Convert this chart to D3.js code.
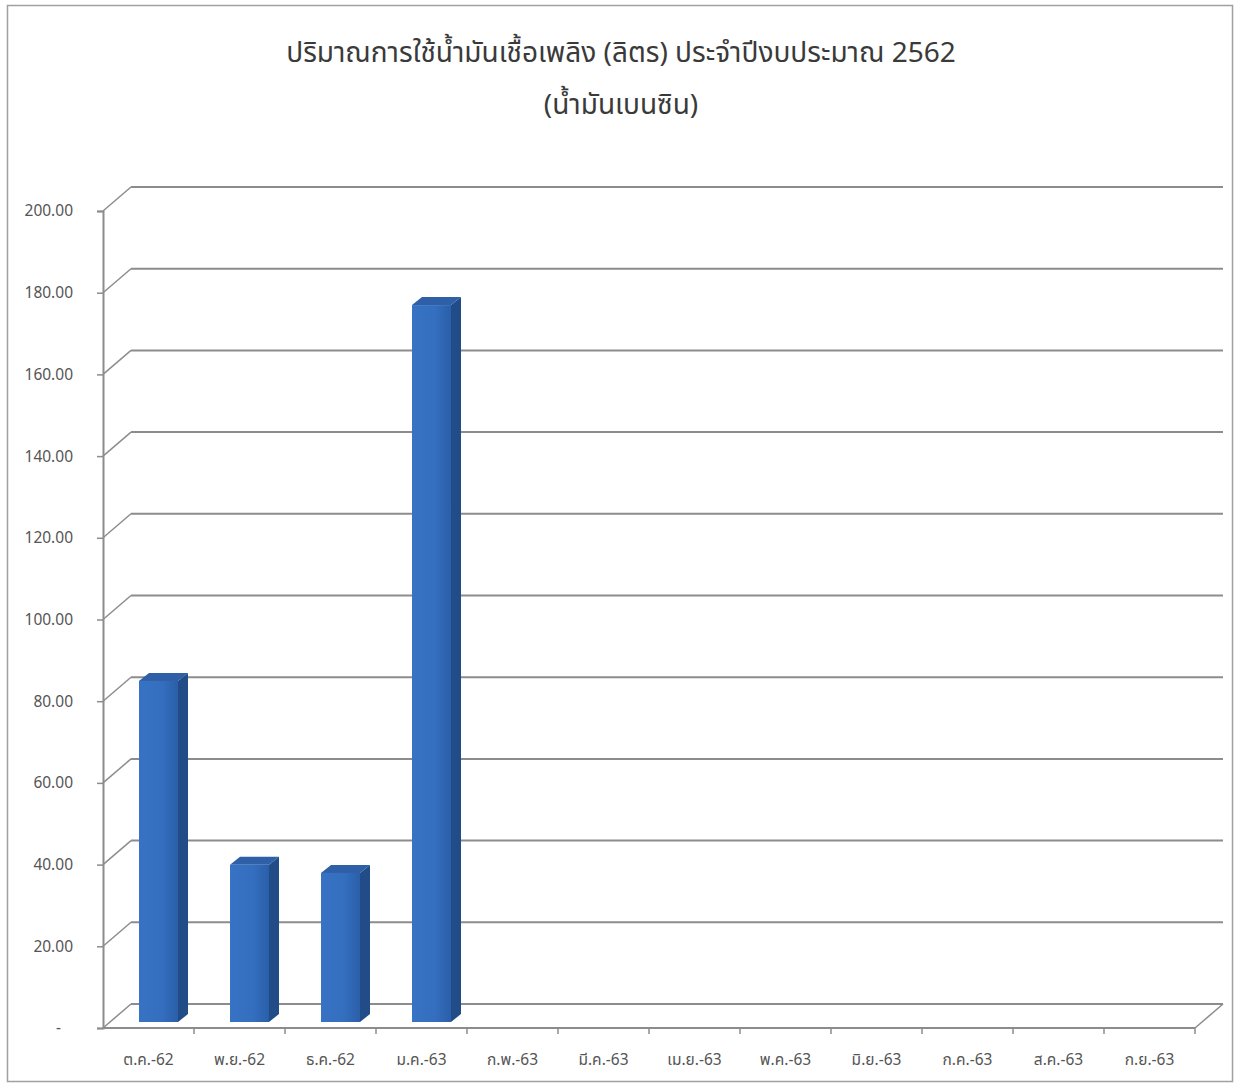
<!DOCTYPE html>
<html>
<head>
<meta charset="utf-8">
<script src="https://cdn.jsdelivr.net/npm/d3@7"></script>
<style>
  body { margin: 0; background: #fff; }
  svg text { font-family: "Noto Sans Thai", "Tahoma", "Noto Sans", "DejaVu Sans", sans-serif; }
</style>
</head>
<body>
<div id="chart"></div>
<script>
// chart data
const months = ["ต.ค.-62", "พ.ย.-62", "ธ.ค.-62", "ม.ค.-63", "ก.พ.-63", "มี.ค.-63",
                "เม.ย.-63", "พ.ค.-63", "มิ.ย.-63", "ก.ค.-63", "ส.ค.-63", "ก.ย.-63"];
const litres = [83.5, 38.5, 36.5, 175.5, null, null, null, null, null, null, null, null];
const yTicks = [0, 20, 40, 60, 80, 100, 120, 140, 160, 180, 200];
const titleLines = ["ปริมาณการใช้น้ำมันเชื้อเพลิง (ลิตร) ประจำปีงบประมาณ 2562", "(น้ำมันเบนซิน)"];

const width = 1236, height = 1083;
// 3D offsets: back wall and bar depth
const wallDx = 28, wallDy = -24;
const barShiftX = 7, barShiftY = -6;
const barDx = 10, barDy = -8;

const svg = d3.select("#chart")
    .append("svg")
    .attr("width", width)
    .attr("height", height);

// outer frame
svg.append("rect")
    .attr("x", 7.5).attr("y", 5.5)
    .attr("width", 1225).attr("height", 1076)
    .attr("fill", "#fff")
    .attr("stroke", "#a0a0a0")
    .attr("stroke-width", 1.5);

const x = d3.scaleBand().domain(months).range([103, 1195]);
const y = d3.scaleLinear().domain([0, 200]).range([1028, 211]);

// gradient for bar front
const defs = svg.append("defs");
const frontGrad = defs.append("linearGradient").attr("id", "frontGrad");
frontGrad.append("stop").attr("offset", "0%").attr("stop-color", "#3872c4");
frontGrad.append("stop").attr("offset", "60%").attr("stop-color", "#346ebe");
frontGrad.append("stop").attr("offset", "100%").attr("stop-color", "#2a5fa9");

const gridColor = "#8c8c8c";

// back wall gridlines + side diagonals
const grid = svg.append("g");
yTicks.forEach(t => {
    grid.append("line")
        .attr("x1", x.range()[0] + wallDx).attr("x2", x.range()[1] + wallDx)
        .attr("y1", y(t) + wallDy).attr("y2", y(t) + wallDy)
        .attr("stroke", gridColor).attr("stroke-width", 2);
    grid.append("line")
        .attr("x1", x.range()[0]).attr("y1", y(t))
        .attr("x2", x.range()[0] + wallDx).attr("y2", y(t) + wallDy)
        .attr("stroke", gridColor).attr("stroke-width", 1.5);
});

// floor: front edge and right diagonal
grid.append("line")
    .attr("x1", x.range()[0]).attr("x2", x.range()[1])
    .attr("y1", y(0)).attr("y2", y(0))
    .attr("stroke", gridColor).attr("stroke-width", 2);
grid.append("line")
    .attr("x1", x.range()[1]).attr("y1", y(0))
    .attr("x2", x.range()[1] + wallDx).attr("y2", y(0) + wallDy)
    .attr("stroke", gridColor).attr("stroke-width", 1.5);

// category tick marks on the front floor edge
svg.append("g").selectAll("line")
    .data(months)
    .enter()
    .append("line")
    .attr("x1", d => x(d) + x.bandwidth())
    .attr("x2", d => x(d) + x.bandwidth())
    .attr("y1", y(0)).attr("y2", y(0) + 6)
    .attr("stroke", gridColor).attr("stroke-width", 1.5);

// front value axis
const yAxis = d3.axisLeft(y)
    .tickValues(yTicks)
    .tickSize(6)
    .tickFormat(d => d === 0 ? "-" : d.toFixed(2));

const yg = svg.append("g")
    .attr("transform", `translate(${x.range()[0]},0)`)
    .call(yAxis);
yg.select(".domain").attr("stroke", gridColor).attr("stroke-width", 2);
yg.selectAll(".tick line").attr("stroke", gridColor).attr("stroke-width", 1.5);
yg.selectAll(".tick text")
    .attr("fill", "#555")
    .style("font-size", "15.5px")
    .attr("x", d => d === 0 ? -42 : -30);

// bars
const bars = svg.append("g").selectAll("g")
    .data(months.map((m, i) => ({ month: m, value: litres[i] })).filter(d => d.value !== null))
    .enter()
    .append("g");

const barW = 39;
function bx(d) { return x(d.month) + barShiftX + (x.bandwidth() - barW) / 2 + 3; }

// side face
bars.append("path")
    .attr("d", d => {
        const x0 = bx(d) + barW, yb = y(0) + barShiftY, yt = y(d.value) + barShiftY;
        return `M${x0},${yb} L${x0 + barDx},${yb + barDy} L${x0 + barDx},${yt + barDy} L${x0},${yt} Z`;
    })
    .attr("fill", "#214c88");

// top face
bars.append("path")
    .attr("d", d => {
        const x0 = bx(d), yt = y(d.value) + barShiftY;
        return `M${x0},${yt} L${x0 + barDx},${yt + barDy} L${x0 + barW + barDx},${yt + barDy} L${x0 + barW},${yt} Z`;
    })
    .attr("fill", "#2f5fa6");

// front face
bars.append("rect")
    .attr("x", d => bx(d))
    .attr("y", d => y(d.value) + barShiftY)
    .attr("width", barW)
    .attr("height", d => y(0) - y(d.value))
    .attr("fill", "url(#frontGrad)");

// category labels
svg.append("g").selectAll("text")
    .data(months)
    .enter()
    .append("text")
    .attr("x", d => x(d) + x.bandwidth() / 2)
    .attr("y", 1065)
    .attr("text-anchor", "middle")
    .attr("fill", "#555")
    .style("font-size", "15.5px")
    .text(d => d);

// title
svg.append("g").selectAll("text")
    .data(titleLines)
    .enter()
    .append("text")
    .attr("x", 621)
    .attr("y", (d, i) => 62 + i * 52)
    .attr("text-anchor", "middle")
    .attr("fill", "#3a3a3a")
    .style("font-size", "28px")
    .text(d => d);
</script>
</body>
</html>
